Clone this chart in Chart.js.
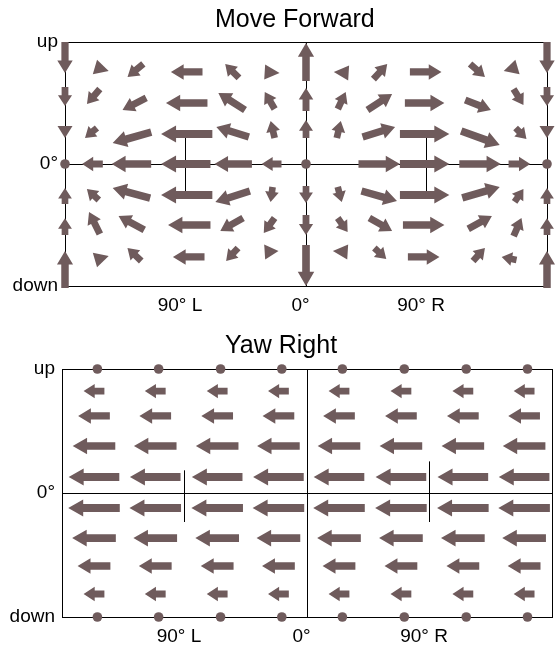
<!DOCTYPE html>
<html><head><meta charset="utf-8">
<script src="https://cdn.jsdelivr.net/npm/chart.js@4.4.0/dist/chart.umd.min.js"></script>
<style>
html,body{margin:0;padding:0;background:#fff;overflow:hidden;width:555px;height:651px;}
#c1{position:absolute;left:0;top:0;}
#c2{position:absolute;left:0;top:320px;}
</style></head><body>
<canvas id="c1" width="555" height="320"></canvas>
<canvas id="c2" width="560" height="331"></canvas>
<script>
// ---- axis ticks ----
const xTickValues = [-180, -90, 0, 90, 180];
const xTickLabels = ['', '90° L', '0°', '90° R', ''];
const yTickValues = [-90, 0, 90];
const yTickLabels = ['down', '0°', 'up'];

// ---- Move Forward: each arrow [x°, y°, u°, v°] (arrow centre and vector, degrees) ----
const mfRow1 = [[-180,78.5,0,-22.9],[-152.5,70.1,10.3,-3.0],[-127.4,69.0,-11.8,-9.6],[-89.1,67.9,-23.6,0],[-55.2,68.6,-10.3,10.3],[-25.3,67.5,11.1,-0.7],[0,75.2,0,28.0],[26.3,67.5,-11.1,0.7],[55.5,68.2,10.3,11.1],[89.4,67.9,23.6,0],[128.1,69.0,11.1,-9.6],[152.8,70.1,-10.3,-3.0],[180,78.5,0,-22.9]];
const mfRow2 = [[-180,49.8,0,-14.0],[-158.8,49.8,-9.6,-11.1],[-128.2,44.3,-17.7,-8.9],[-89.1,45.0,-31.0,0],[-55.5,46.1,-19.9,12.5],[-27.1,46.8,-7.4,12.5],[0,47.6,0,17.0],[26.7,46.8,5.9,12.5],[55.1,45.7,18.4,11.8],[88.6,45.0,29.5,0],[128.5,43.5,19.2,-7.4],[158.7,49.4,7.4,-11.8],[180,49.8,0,-14.0]];
const mfRow3 = [[-180,23.6,0,-8.9],[-160.6,22.9,-8.9,-7.4],[-130.0,19.5,-28.8,-8.1],[-89.1,22.1,-38.3,0],[-54.8,23.6,-24.3,7.4],[-24.9,25.4,-3.0,12.5],[0,25.8,0,13.3],[24.5,25.4,3.0,12.5],[54.4,23.6,24.3,7.4],[88.6,22.1,36.9,0],[130.3,19.2,28.8,-10.3],[160.6,22.5,8.1,-8.1],[180,23.6,0,-8.9]];
const mfRow4 = [[-180,0,0,0],[-159.5,0,-15.5,0],[-130.4,0,-29.5,0],[-89.8,0,-36.9,0],[-54.4,0,-28.0,0],[-25.7,0,-14.8,0],[0,0,0,0],[54.7,0,31.0,0],[88.6,0,36.9,0],[130.0,0,31.0,0],[159.4,0,16.2,0],[180,0,0,0]];
const mfRow5 = [[-180,-23.6,0,11.8],[-159.2,-22.5,-8.9,8.1],[-130.4,-21.4,-28.0,7.4],[-89.1,-22.9,-38.3,0],[-54.8,-24.0,-25.8,-8.1],[-25.7,-22.5,-1.5,-11.1],[0,-22.5,0,-12.5],[25.2,-22.5,3.0,-11.1],[54.7,-23.6,26.5,-7.4],[88.6,-22.9,36.9,0],[130.7,-21.0,28.0,8.1],[159.1,-23.2,6.6,9.6],[180,-23.6,0,11.8]];
const mfRow6 = [[-180,-46.2,0,12.5],[-158.0,-43.5,-8.1,16.2],[-130.4,-43.5,-19.2,10.3],[-87.2,-45.0,-31.7,0],[-55.5,-44.6,-17.0,-9.6],[-27.5,-45.4,-8.1,-11.1],[0,-45.0,0,-14.7],[27.4,-45.0,7.4,-10.3],[55.8,-44.6,17.0,-9.6],[87.9,-45.0,31.0,0],[130.0,-43.1,17.7,9.6],[158.0,-46.5,5.9,13.3],[180,-46.2,0,12.5]];
const mfRow7 = [[-180,-77.8,0,27.3],[-152.5,-69.3,10.3,3.0],[-128.2,-66.7,-10.3,9.6],[-87.6,-68.6,-23.6,0],[-55.2,-66.7,-8.9,-9.6],[-25.7,-64.5,10.3,0.7],[0,-74.9,0,-30.2],[25.6,-64.5,-11.1,0.7],[55.5,-66.0,8.9,-8.1],[87.9,-68.6,23.6,0],[129.2,-66.7,8.9,9.6],[151.7,-69.7,-11.1,2.2],[180,-77.8,0,27.3]];
// short reference marks at ±90°: [x, yFrom, yTo]
const mfMarks = [[-90, 21, -21.5], [90, 23, -21.5]];

// ---- Yaw Right: uniform leftward flow, length depends on elevation ----
const yawArrowX = [-156.5, -111.5, -66, -21, 23.5, 69, 114.5, 159.5];
const yawRowY = [74, 55.9, 34.1, 11.6, -10.9, -32.7, -53, -73.3];
const yawRowU = [-15.3, -23.3, -31.3, -37.2, -37.9, -32.1, -24.1, -15.3];
const yawDotX = [-154, -109, -63.5, -18.5, 26, 71.5, 117, 162];
const yawDotY = [90, -90];
const yawMarks = [[-90, 16.2, -21], [90, 22.7, -21]];

const ARROW = '#6f5b5c';
const FONT = '"Liberation Sans", Arial, sans-serif';

function drawArrow(ctx, x0, y0, x1, y1) {
  const dx = x1 - x0, dy = y1 - y0, L = Math.hypot(dx, dy);
  if (L < 0.5) { ctx.beginPath(); ctx.arc(x0, y0, 4.8, 0, Math.PI * 2); ctx.fill(); return; }
  const ux = dx / L, uy = dy / L, nx = -uy, ny = ux;
  let hl, hw, sw;
  if (L <= 15) { hl = L; hw = 15; sw = 0; }
  else { hl = Math.min(15, 8 + L * 0.15); hw = Math.min(17, 12 + L * 0.11); sw = Math.min(8, 6 + L * 0.04); }
  if (hl > L) hl = L;
  const bx = x1 - ux * hl, by = y1 - uy * hl;
  ctx.beginPath();
  if (sw > 0 && hl < L) {
    ctx.moveTo(x0 + nx * sw / 2, y0 + ny * sw / 2);
    ctx.lineTo(bx + nx * sw / 2, by + ny * sw / 2);
    ctx.lineTo(bx + nx * hw / 2, by + ny * hw / 2);
    ctx.lineTo(x1, y1);
    ctx.lineTo(bx - nx * hw / 2, by - ny * hw / 2);
    ctx.lineTo(bx - nx * sw / 2, by - ny * sw / 2);
    ctx.lineTo(x0 - nx * sw / 2, y0 - ny * sw / 2);
  } else {
    ctx.moveTo(bx + nx * hw / 2, by + ny * hw / 2);
    ctx.lineTo(x1, y1);
    ctx.lineTo(bx - nx * hw / 2, by - ny * hw / 2);
  }
  ctx.closePath();
  ctx.fill();
}

const quiverPlugin = {
  id: 'quiver',
  afterDatasetsDraw(chart) {
    const { ctx, scales: { x, y } } = chart;
    ctx.save();
    ctx.fillStyle = ARROW;
    chart.data.datasets.forEach(ds => {
      if (!ds.quiver) return;
      ds.data.forEach(p => {
        const x0 = x.getPixelForValue(p.x - p.u / 2), y0 = y.getPixelForValue(p.y - p.v / 2);
        const x1 = x.getPixelForValue(p.x + p.u / 2), y1 = y.getPixelForValue(p.y + p.v / 2);
        drawArrow(ctx, x0, y0, x1, y1);
      });
    });
    ctx.restore();
  }
};

const titlePlugin = {
  id: 'ttl',
  afterDraw(chart, args, o) {
    const ctx = chart.ctx;
    ctx.save();
    ctx.font = o.size + 'px ' + FONT;
    ctx.fillStyle = '#000';
    ctx.textBaseline = 'alphabetic';
    ctx.textAlign = 'left';
    ctx.fillText(o.text, o.x, o.y);
    ctx.restore();
  }
};

function toPts(rows) {
  const out = [];
  rows.forEach(r => r.forEach(a => out.push({ x: a[0], y: a[1], u: a[2], v: a[3] })));
  return out;
}
function markSets(marks) {
  return marks.map(m => ({
    type: 'line', data: [{ x: m[0], y: m[1] }, { x: m[0], y: m[2] }],
    borderColor: '#000', borderWidth: 1, pointRadius: 0, fill: false
  }));
}

function makeChart(id, pts, marks, cfg) {
  return new Chart(document.getElementById(id), {
    type: 'scatter',
    data: {
      datasets: [
        { quiver: true, data: pts, pointRadius: 0, pointHoverRadius: 0 },
        ...markSets(marks)
      ]
    },
    plugins: [quiverPlugin, titlePlugin],
    options: {
      responsive: false, animation: false, events: [],
      layout: { padding: { top: cfg.top, right: cfg.right, left: 0, bottom: 0 } },
      plugins: {
        legend: { display: false }, tooltip: { enabled: false },
        ttl: { text: cfg.title, x: cfg.tx, y: cfg.ty, size: 25 }
      },
      scales: {
        x: {
          type: 'linear', min: -180, max: 180,
          afterBuildTicks(s) { s.ticks = xTickValues.map(v => ({ value: v })); },
          afterFit(s) { s.height = cfg.xh; },
          grid: { drawTicks: false, lineWidth: 1, color: c => (c.tick && Math.abs(c.tick.value) === 90) ? 'rgba(0,0,0,0)' : '#000' },
          border: { display: true, color: '#000', width: 1 },
          ticks: {
            autoSkip: false, maxRotation: 0, padding: cfg.xpad, labelOffset: -5.5, color: '#000',
            font: { family: FONT, size: 19 },
            callback: v => xTickLabels[xTickValues.indexOf(v)] ?? ''
          }
        },
        y: {
          type: 'linear', min: -90, max: 90,
          afterBuildTicks(s) { s.ticks = yTickValues.map(v => ({ value: v })); },
          afterFit(s) { s.width = cfg.yw; },
          grid: { drawTicks: false, lineWidth: 1, color: '#000' },
          border: { display: true, color: '#000', width: 1 },
          ticks: {
            autoSkip: false, padding: 7, color: '#000',
            font: { family: FONT, size: 19 },
            callback: v => yTickLabels[yTickValues.indexOf(v)] ?? ''
          }
        }
      }
    }
  });
}

const mfPts = toPts([mfRow1, mfRow2, mfRow3, mfRow4, mfRow5, mfRow6, mfRow7]);
const yawPts = [];
yawRowY.forEach((yy, r) => yawArrowX.forEach(xx => yawPts.push({ x: xx, y: yy, u: yawRowU[r], v: 0 })));
yawDotY.forEach(yy => yawDotX.forEach(xx => yawPts.push({ x: xx, y: yy, u: 0, v: 0 })));

makeChart('c1', mfPts, mfMarks, { top: 42, right: 1, xh: 34, yw: 65, xpad: 8, title: 'Move Forward', tx: 215, ty: 27 });
makeChart('c2', yawPts, yawMarks, { top: 49, right: 4, xh: 34, yw: 62, xpad: 8, title: 'Yaw Right', tx: 225, ty: 33 });
</script></body></html>
